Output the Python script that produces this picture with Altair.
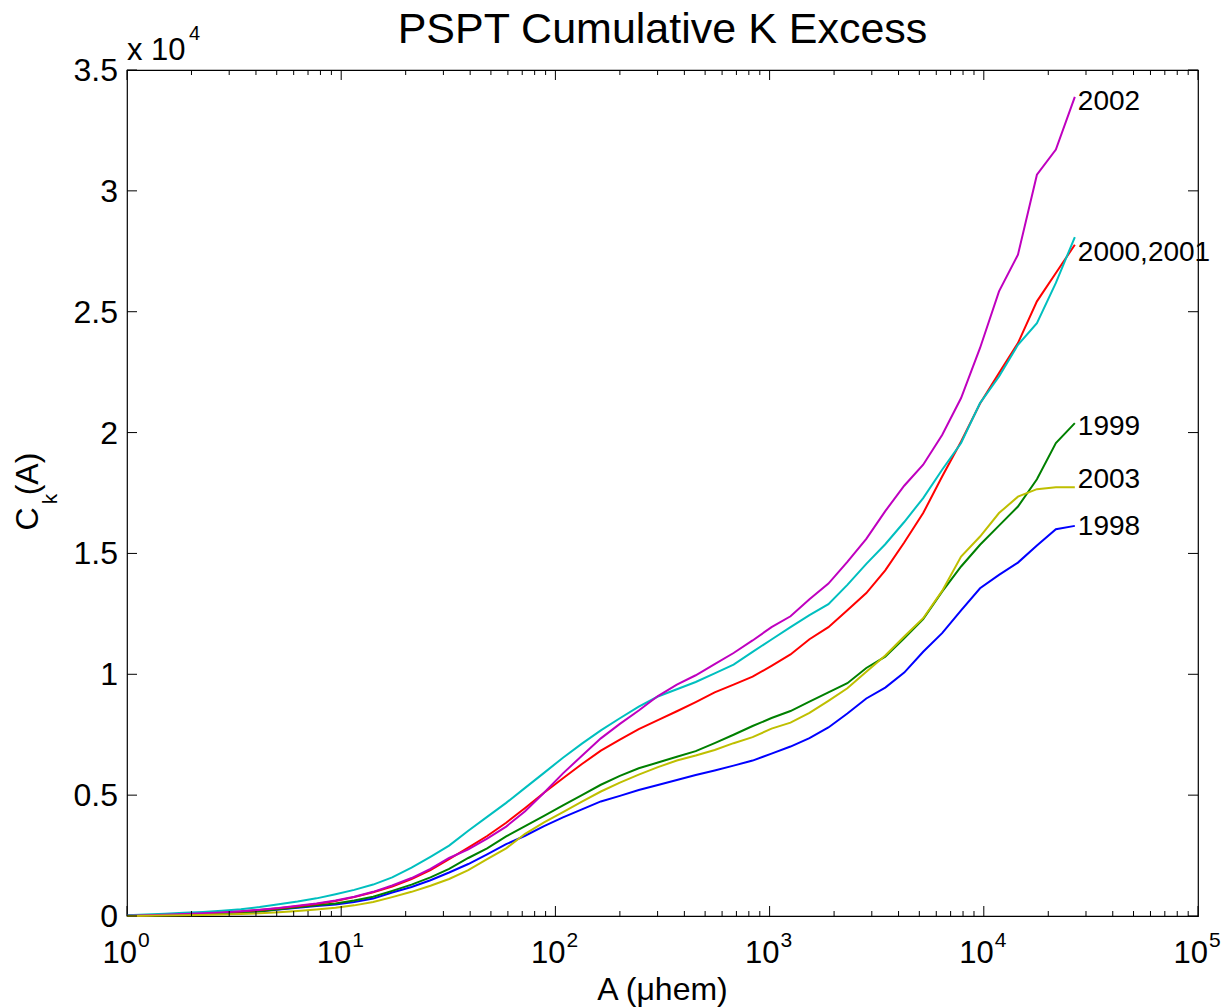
import altair as alt
import pandas as pd

# ---------------- data ----------------
A_UHEM = [1.0, 1.226, 1.503, 1.843, 2.26, 2.77, 3.40, 4.16, 5.11, 6.26, 7.67, 9.41,
          11.5, 14.1, 17.3, 21.3, 26.1, 31.9, 39.2, 48.0, 58.9, 72.2, 88.5, 108.5,
          133, 163, 200, 245, 301, 369, 452, 554, 679, 833, 1021, 1252, 1535, 1882,
          2307, 2828, 3467, 4251, 5212, 6390, 7834, 9605, 11776, 14437, 17701, 21701, 26607]

# cumulative K excess, in units of 10^4
C_1998 = [0.001, 0.003, 0.005, 0.007, 0.009, 0.011, 0.014, 0.019, 0.027, 0.034, 0.041, 0.048,
          0.058, 0.072, 0.097, 0.12, 0.148,
          0.18, 0.215, 0.255, 0.297, 0.332, 0.372, 0.408, 0.441, 0.474, 0.497, 0.521,
          0.542, 0.563, 0.583, 0.602, 0.622, 0.643,
          0.672, 0.701, 0.736, 0.78, 0.838, 0.90, 0.945, 1.007, 1.093, 1.17, 1.264,
          1.356, 1.411, 1.462, 1.533, 1.60, 1.614]
C_1999 = [0.001, 0.003, 0.005, 0.007, 0.01, 0.012, 0.015, 0.02, 0.028, 0.036, 0.044, 0.052,
          0.064, 0.08, 0.104, 0.13, 0.16,
          0.195, 0.24, 0.28, 0.329, 0.372, 0.414, 0.458, 0.50, 0.543, 0.58, 0.611,
          0.635, 0.659, 0.682, 0.715, 0.75, 0.786,
          0.819, 0.848, 0.887, 0.925, 0.963, 1.026, 1.073, 1.149, 1.228, 1.342, 1.446,
          1.536, 1.615, 1.694, 1.807, 1.957, 2.039]
C_2000 = [0.001, 0.003, 0.005, 0.008, 0.011, 0.015, 0.019, 0.025, 0.032, 0.04, 0.05, 0.062,
          0.078, 0.098, 0.122, 0.153, 0.19,
          0.235, 0.283, 0.331, 0.386, 0.447, 0.51, 0.57, 0.629, 0.684, 0.73, 0.773,
          0.81, 0.847, 0.885, 0.925, 0.957, 0.99,
          1.035, 1.082, 1.145, 1.195, 1.265, 1.336, 1.43, 1.545, 1.667, 1.818, 1.963,
          2.12, 2.246, 2.37, 2.543, 2.66, 2.777]
C_2001 = [0.003, 0.006, 0.009, 0.013, 0.017, 0.022, 0.028, 0.037, 0.049, 0.06, 0.073, 0.09,
          0.108, 0.13, 0.16, 0.2, 0.245,
          0.291, 0.353, 0.41, 0.468, 0.53, 0.592, 0.655, 0.713, 0.768, 0.818, 0.866,
          0.908, 0.938, 0.968, 1.004, 1.04, 1.093,
          1.144, 1.195, 1.245, 1.29, 1.37, 1.457, 1.538, 1.63, 1.729, 1.846, 1.957,
          2.122, 2.232, 2.363, 2.453, 2.619, 2.809]
C_2002 = [0.001, 0.003, 0.005, 0.008, 0.011, 0.015, 0.02, 0.026, 0.033, 0.042, 0.052, 0.064,
          0.08, 0.1, 0.126, 0.157, 0.195,
          0.24, 0.276, 0.32, 0.37, 0.433, 0.51, 0.59, 0.663, 0.735, 0.795, 0.85,
          0.91, 0.957, 0.996, 1.042, 1.088, 1.14,
          1.195, 1.24, 1.31, 1.375, 1.465, 1.56, 1.675, 1.78, 1.867, 1.99, 2.143,
          2.35, 2.584, 2.736, 3.067, 3.171, 3.389]
C_2003 = [0.0005, 0.001, 0.002, 0.003, 0.004, 0.006, 0.008, 0.011, 0.016, 0.021, 0.027, 0.034,
          0.044, 0.058, 0.078, 0.1, 0.125,
          0.153, 0.19, 0.235, 0.28, 0.34, 0.387, 0.43, 0.473, 0.515, 0.552, 0.585,
          0.616, 0.643, 0.664, 0.687, 0.715, 0.74,
          0.775, 0.80, 0.84, 0.89, 0.942, 1.011, 1.078, 1.156, 1.232, 1.345, 1.487,
          1.57, 1.667, 1.735, 1.766, 1.774, 1.774]

SERIES = [("1998", C_1998, "#0000ff"), ("1999", C_1999, "#008000"),
          ("2000", C_2000, "#ff0000"), ("2001", C_2001, "#00bfbf"),
          ("2002", C_2002, "#bf00bf"), ("2003", C_2003, "#bfbf00")]

END_LABELS = ["2002", "2000,2001", "1999", "2003", "1998"]
END_LABEL_Y = [3.367, 2.744, 2.025, 1.805, 1.611]
END_LABEL_A = [26607, 26607, 26607, 26607, 26607]

X_MAJOR = [1, 10, 100, 1000, 10000, 100000]
X_EXP = ["0", "1", "2", "3", "4", "5"]
X_MINOR = [m * 10 ** d for d in range(5) for m in range(2, 10)]
Y_TICKS = [0, 0.5, 1, 1.5, 2, 2.5, 3, 3.5]
Y_LABELS = ["0", "0.5", "1", "1.5", "2", "2.5", "3", "3.5"]

TITLE = "PSPT Cumulative K Excess"
XTITLE = "A (\u03bchem)"

# ---------------- layout ----------------
W, H = 1071, 846
FONT = "Liberation Sans"
xs = alt.Scale(type="log", domain=[1, 100000], nice=False)
ys = alt.Scale(domain=[0, 3.5], nice=False, zero=False)


def X(field):
    return alt.X(field, type="quantitative", scale=xs, axis=None)


def Y(field):
    return alt.Y(field, type="quantitative", scale=ys, axis=None)


layers = []

# series lines
for name, vals, col in SERIES:
    df = pd.DataFrame({"A": A_UHEM, "C": vals})
    layers.append(
        alt.Chart(df).mark_line(color=col, strokeWidth=2, clip=False).encode(
            x=X("A"), y=Y("C"), order=alt.Order("A:Q"))
    )

# ticks (inward, on all sides)
xmaj = pd.DataFrame({"v": X_MAJOR})
xmin = pd.DataFrame({"v": X_MINOR})
ytk = pd.DataFrame({"v": Y_TICKS, "lab": Y_LABELS})
tick_style = dict(color="black", strokeWidth=1)
layers += [
    alt.Chart(xmaj).mark_rule(**tick_style).encode(x=X("v"), y=alt.value(H), y2=alt.value(H - 10)),
    alt.Chart(xmaj).mark_rule(**tick_style).encode(x=X("v"), y=alt.value(0), y2=alt.value(10)),
    alt.Chart(xmin).mark_rule(**tick_style).encode(x=X("v"), y=alt.value(H), y2=alt.value(H - 5)),
    alt.Chart(xmin).mark_rule(**tick_style).encode(x=X("v"), y=alt.value(0), y2=alt.value(5)),
    alt.Chart(ytk).mark_rule(**tick_style).encode(y=Y("v"), x=alt.value(0), x2=alt.value(10)),
    alt.Chart(ytk).mark_rule(**tick_style).encode(y=Y("v"), x=alt.value(W), x2=alt.value(W - 10)),
]

# y tick labels
layers.append(
    alt.Chart(ytk).mark_text(font=FONT, fontSize=32, align="right", baseline="middle",
                             color="black", dx=-9, dy=1).encode(
        y=Y("v"), x=alt.value(0), text="lab:N")
)

# x tick labels 10^n
xlab = pd.DataFrame({"v": X_MAJOR, "e": X_EXP, "b": ["10"] * len(X_MAJOR)})
layers += [
    alt.Chart(xlab).mark_text(font=FONT, fontSize=31, align="right", baseline="alphabetic",
                              color="black", dx=10).encode(
        x=X("v"), y=alt.value(H + 47), text="b:N"),
    alt.Chart(xlab).mark_text(font=FONT, fontSize=21, align="left", baseline="alphabetic",
                              color="black", dx=11).encode(
        x=X("v"), y=alt.value(H + 31), text="e:N"),
]

# end-of-line labels
lab = pd.DataFrame({"A": END_LABEL_A, "C": END_LABEL_Y, "t": END_LABELS})
layers.append(
    alt.Chart(lab).mark_text(font=FONT, fontSize=28, align="left", baseline="middle",
                             color="black", dx=3).encode(
        x=X("A"), y=Y("C"), text="t:N")
)


def free_text(txt, x, y, size, align="center", angle=None, baseline="alphabetic"):
    kw = dict(font=FONT, fontSize=size, align=align, baseline=baseline, color="black")
    if angle is not None:
        kw["angle"] = angle
    return alt.Chart(pd.DataFrame({"t": [txt]})).mark_text(**kw).encode(
        x=alt.value(x), y=alt.value(y), text="t:N")


layers += [
    free_text(TITLE, W / 2, -27, 43),
    free_text(XTITLE, W / 2, H + 84, 32),
    free_text("x 10", 0, -10, 31, align="left"),
    free_text("4", 62, -30, 20, align="left"),
    free_text("C", -89, 449, 32, angle=270),
    free_text("k", -70, 429, 21, angle=270),
    free_text("(A)", -89, 404, 32, angle=270),
]

chart = alt.layer(*layers).properties(
    width=W, height=H,
    autosize=alt.AutoSizeParams(type="none"),
    padding={"left": 127, "top": 70, "right": 26, "bottom": 92},
    background="white",
).configure_view(stroke="black", strokeWidth=1.2)

chart.save("out.html", embed_options={"renderer": "svg", "actions": False})
